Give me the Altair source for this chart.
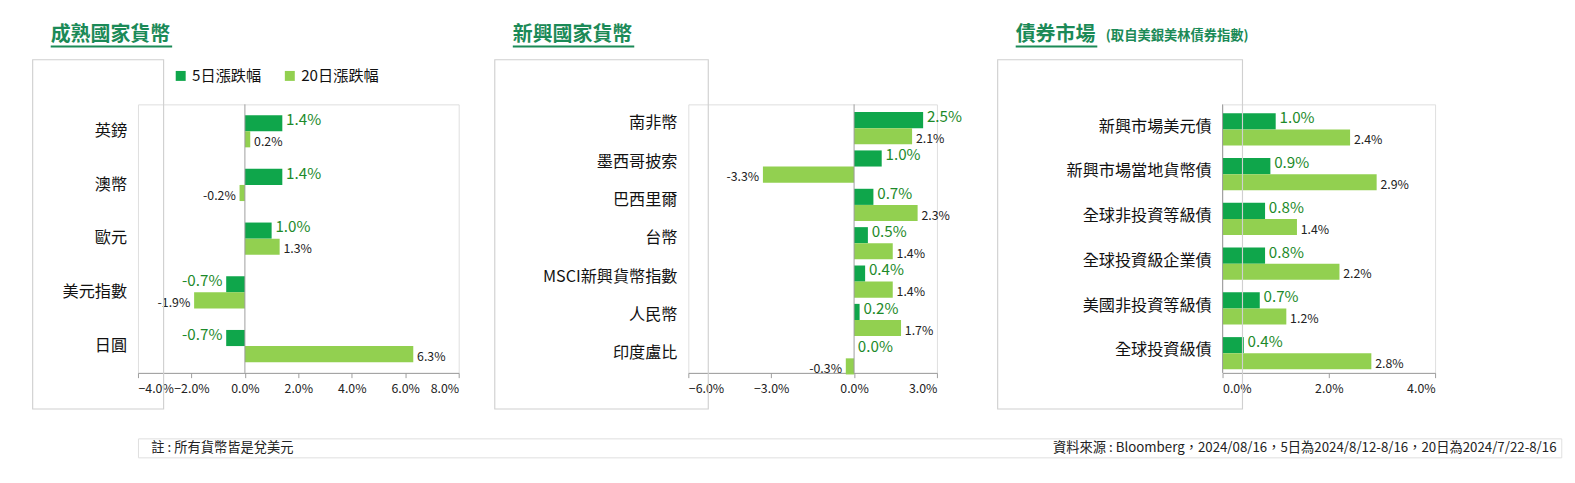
import pandas as pd
import altair as alt

FONT = "Noto Sans CJK TC"
DARK = "#0fa64b"
LIGHT = "#92d050"
TITLE_C = "#1b8a57"

series_names = ["5日漲跌幅", "20日漲跌幅"]

dev_cats = ["英鎊", "澳幣", "歐元", "美元指數", "日圓"]
dev_5d = [1.4, 1.4, 1.0, -0.7, -0.7]
dev_20d = [0.2, -0.2, 1.3, -1.9, 6.3]

em_cats = ["南非幣", "墨西哥披索", "巴西里爾", "台幣", "MSCI新興貨幣指數", "人民幣", "印度盧比"]
em_5d = [2.5, 1.0, 0.7, 0.5, 0.4, 0.2, 0.0]
em_20d = [2.1, -3.3, 2.3, 1.4, 1.4, 1.7, -0.3]

bond_cats = ["新興市場美元債", "新興市場當地貨幣債", "全球非投資等級債", "全球投資級企業債", "美國非投資等級債", "全球投資級債"]
bond_5d = [1.0, 0.9, 0.8, 0.8, 0.7, 0.4]
bond_20d = [2.4, 2.9, 1.4, 2.2, 1.2, 2.8]

note_text = "註 : 所有貨幣皆是兌美元"
source_text = "資料來源 : Bloomberg，2024/08/16，5日為2024/8/12-8/16，20日為2024/7/22-8/16"


def make_df(cats, v5, v20):
    rows = []
    for c, a, b in zip(cats, v5, v20):
        rows.append({"cat": c, "series": series_names[0], "v": a})
        rows.append({"cat": c, "series": series_names[1], "v": b})
    df = pd.DataFrame(rows)
    df["label"] = df["v"].map(lambda x: f"{x:.1f}%")
    return df


def panel(df, cats, domain, ticks, w, h, yext, title, subtitle, box, legend_x):
    base = alt.Chart(df)
    x = alt.X("v:Q", scale=alt.Scale(domain=domain), title=None,
              axis=alt.Axis(values=ticks, labelExpr="format(datum.value, '.1f') + '%'",
                            labelFontSize=13, labelColor="#222", grid=False,
                            domainColor="#999", tickColor="#999", labelPadding=6))
    y = alt.Y("cat:N", sort=cats, title=None,
              scale=alt.Scale(paddingInner=0.4, paddingOuter=0.2),
              axis=alt.Axis(ticks=False, domain=False, labelFontSize=17, labelColor="#111",
                            labelPadding=12, minExtent=yext, maxExtent=yext, labelLimit=400))
    yoff = alt.YOffset("series:N", sort=series_names)
    bars = base.mark_bar().encode(
        x=x, y=y, yOffset=yoff,
        color=alt.Color("series:N", sort=series_names,
                        scale=alt.Scale(domain=series_names, range=[DARK, LIGHT]),
                        legend=alt.Legend(title=None, orient="none", direction="horizontal",
                                          legendX=legend_x, legendY=-38, symbolType="square",
                                          symbolSize=110, labelFontSize=16, columnPadding=22,
                                          labelColor="#111")))
    layers = [bars]
    for s, size, col, dy in [(series_names[0], 16, "#1d8a2a", -3), (series_names[1], 13, "#222", 3)]:
        for cond, align, dx in [("datum.v >= 0", "left", 4), ("datum.v < 0", "right", -4)]:
            layers.append(base.transform_filter(f"datum.series == '{s}' && {cond}").mark_text(
                align=align, dx=dx, dy=dy, fontSize=size, color=col).encode(
                x="v:Q", y=alt.Y("cat:N", sort=cats), yOffset=yoff, text="label:N"))
    zero = alt.Chart(pd.DataFrame({"z": [0]})).mark_rule(color="#999").encode(x="z:Q")
    bx0, bx1, by0, by1 = box
    frame = alt.Chart(pd.DataFrame({"a": [0]})).mark_rect(
        fill=None, stroke="#d0d0d0", strokeWidth=1.2).encode(
        x=alt.value(bx0), x2=alt.value(bx1), y=alt.value(by0), y2=alt.value(by1))
    ttl = alt.Chart(pd.DataFrame({"t": [title]})).mark_text(
        align="left", baseline="alphabetic", fontSize=21, fontWeight="bold", color=TITLE_C).encode(
        x=alt.value(bx0 + 19), y=alt.value(-67), text="t:N")
    tw = 21 * len(title)
    under = alt.Chart(pd.DataFrame({"a": [0]})).mark_rule(color=TITLE_C, strokeWidth=2).encode(
        x=alt.value(bx0 + 19), x2=alt.value(bx0 + 21 + tw), y=alt.value(-61))
    layers += [zero, frame, ttl, under]
    if subtitle:
        layers.append(alt.Chart(pd.DataFrame({"t": [subtitle]})).mark_text(
            align="left", baseline="alphabetic", fontSize=14, fontWeight="bold", color=TITLE_C).encode(
            x=alt.value(bx0 + 30 + tw), y=alt.value(-68), text="t:N"))
    return alt.layer(*layers).properties(width=w, height=h)


p1 = panel(make_df(dev_cats, dev_5d, dev_20d), dev_cats, [-4, 8], [-4, -2, 0, 2, 4, 6, 8],
           338, 283, 105, "成熟國家貨幣", None, (-111, 27, -47, 321), 37)
p2 = panel(make_df(em_cats, em_5d, em_20d), em_cats, [-6, 3], [-6, -3, 0, 3],
           262, 283, 198, "新興國家貨幣", None, (-204, 21, -47, 321), -79)
p3 = panel(make_df(bond_cats, bond_5d, bond_20d), bond_cats, [0, 4], [0, 2, 4],
           224, 283, 230, "債券市場", "(取自美銀美林債券指數)", (-237, 21, -47, 321), -75)

note = alt.Chart(pd.DataFrame({"t": [note_text]})).mark_text(
    align="left", fontSize=14, color="#222").encode(x=alt.value(14), y=alt.value(10), text="t:N")
src = alt.Chart(pd.DataFrame({"t": [source_text]})).mark_text(
    align="right", fontSize=14, color="#222").encode(x=alt.value(1495), y=alt.value(10), text="t:N")
footer = alt.layer(note, src).properties(width=1500, height=20)

chart = alt.vconcat(
    alt.hconcat(p1, p2, p3, spacing=35), footer, spacing=28
).properties(padding={"left": 24, "top": 4, "right": 5, "bottom": 5}).configure_view(
    stroke=None).configure(font=FONT)

chart.save("out.html", embed_options={"renderer": "svg", "actions": False})
